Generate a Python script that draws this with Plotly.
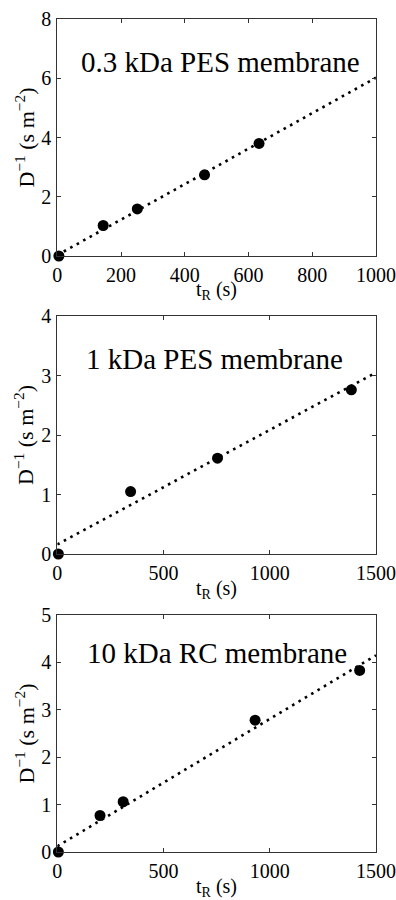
import plotly.graph_objects as go

# ---- data ----
x1 = [5, 144, 251, 462, 633]
y1 = [0.0, 1.03, 1.59, 2.74, 3.80]
fit1_x = [0, 1000]
fit1_y = [0.03, 6.02]

x2 = [5, 345, 754, 1384]
y2 = [0.0, 1.05, 1.61, 2.76]
fit2_x = [0, 1500]
fit2_y = [0.16, 3.05]

x3 = [5, 201, 310, 931, 1423]
y3 = [0.0, 0.77, 1.06, 2.78, 3.83]
fit3_x = [0, 1500]
fit3_y = [0.12, 4.15]

labels = ["0.3 kDa PES membrane", "1 kDa PES membrane", "10 kDa RC membrane"]
xranges = [[0, 1000], [0, 1500], [0, 1500]]
yranges = [[0, 8], [0, 4], [0, 5]]
xticks = [[0, 200, 400, 600, 800, 1000], [0, 500, 1000, 1500], [0, 500, 1000, 1500]]
yticks = [[0, 2, 4, 6, 8], [0, 1, 2, 3, 4], [0, 1, 2, 3, 4, 5]]
label_pos = [(512, 6.55), (741, 3.27), (753, 4.19)]

W, H = 396, 900
xdom = [57.3 / W, 376 / W]
ypx = [(19, 256), (316, 554), (615, 852)]
ydoms = [[1 - b / H, 1 - t / H] for t, b in ypx]

FONT = "Liberation Serif"

fig = go.Figure()
data = [(x1, y1, fit1_x, fit1_y), (x2, y2, fit2_x, fit2_y), (x3, y3, fit3_x, fit3_y)]
for i, (xs, ys, fx, fy) in enumerate(data):
    xa = "x" if i == 0 else f"x{i+1}"
    ya = "y" if i == 0 else f"y{i+1}"
    fig.add_trace(go.Scatter(x=fx, y=fy, mode="lines", xaxis=xa, yaxis=ya,
                             line=dict(color="black", width=2.6, dash="2.6px,4.8px"),
                             showlegend=False, cliponaxis=False))
    fig.add_trace(go.Scatter(x=xs, y=ys, mode="markers", xaxis=xa, yaxis=ya,
                             marker=dict(color="black", size=11, line=dict(width=0)),
                             showlegend=False, cliponaxis=False))

axis_common = dict(showline=True, linecolor="#333", linewidth=1, mirror="ticks",
                   ticks="inside", ticklen=4, tickcolor="#333", showgrid=False,
                   zeroline=False, tickfont=dict(family=FONT, size=20, color="black"),
                   automargin=False, fixedrange=True)

layout = dict(width=W, height=H, margin=dict(l=0, r=0, t=0, b=0),
              paper_bgcolor="white", plot_bgcolor="white",
              font=dict(family=FONT, color="black"))
annotations = []
for i in range(3):
    xk = "xaxis" if i == 0 else f"xaxis{i+1}"
    yk = "yaxis" if i == 0 else f"yaxis{i+1}"
    ya = "y" if i == 0 else f"y{i+1}"
    xa = "x" if i == 0 else f"x{i+1}"
    layout[xk] = dict(domain=xdom, range=xranges[i], tickvals=xticks[i], anchor=ya,
                      ticklabelstandoff=1, **axis_common)
    layout[yk] = dict(domain=ydoms[i], range=yranges[i], tickvals=yticks[i], anchor=xa,
                      ticklabelstandoff=1, **axis_common)
    t, b = ypx[i]
    annotations.append(dict(text=labels[i], x=label_pos[i][0], y=label_pos[i][1],
                            xref=xa, yref=ya, showarrow=False,
                            font=dict(family=FONT, size=29, color="black"),
                            xanchor="center", yanchor="middle"))
    annotations.append(dict(text="D<sup>−1</sup> (s m<sup>−2</sup>)", x=24 / W,
                            y=1 - ((t + b) / 2) / H, xref="paper", yref="paper",
                            showarrow=False, textangle=-90,
                            font=dict(family=FONT, size=22, color="black"),
                            xanchor="center", yanchor="middle"))
    annotations.append(dict(text="t<sub>R</sub> (s)", x=((57.3 + 376) / 2) / W,
                            y=1 - (b + 35) / H, xref="paper", yref="paper",
                            showarrow=False,
                            font=dict(family=FONT, size=20, color="black"),
                            xanchor="center", yanchor="middle"))
layout["annotations"] = annotations
fig.update_layout(**layout)
fig.write_html("out.html")
